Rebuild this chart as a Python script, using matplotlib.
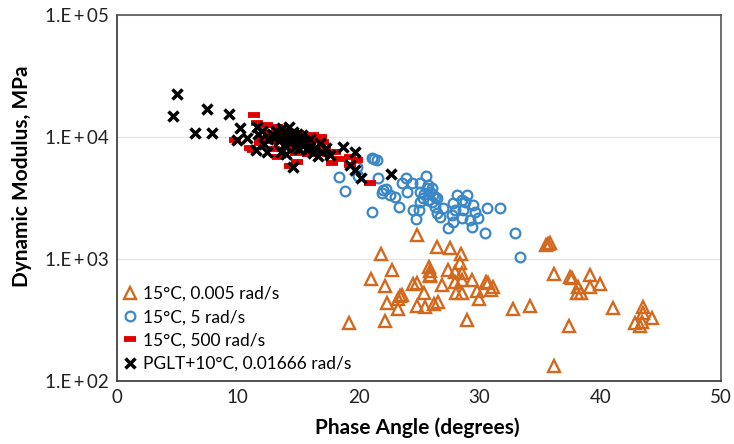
import matplotlib
matplotlib.use("Agg")
import matplotlib.pyplot as plt
from matplotlib.ticker import FixedLocator, FuncFormatter, NullLocator
import numpy as np

plt.rcParams['font.family'] = ['Lato', 'DejaVu Sans']

# 15°C, 0.005 rad/s
tri_x = [24.86, 26.47, 27.57, 28.45, 21.88, 28.39, 25.85, 22.74, 27.38, 27.98,
         28.53, 25.91, 25.91, 25.91, 21.03, 29.36, 27.98, 28.53, 30.52, 30.74,
         24.53, 24.81, 26.88, 22.21, 31.15, 29.83, 30.94, 25.41, 28.06, 28.53,
         23.43, 23.57, 23.29, 29.99, 22.33, 26.60, 26.27, 24.86, 25.50, 23.29,
         32.81, 34.19, 19.23, 22.19, 28.95, 35.70, 35.84, 35.55, 36.20, 37.64,
         37.50, 39.16, 38.19, 39.16, 39.98, 38.10, 38.39, 41.03, 37.44, 43.57,
         43.52, 44.26, 42.88, 43.29, 43.44, 36.20]
tri_y = [1574, 1262, 1239, 1093, 1093, 933, 865, 813, 813, 787,
         764, 795, 741, 724, 685, 673, 652, 673, 652, 632,
         621, 632, 612, 601, 593, 550, 557, 530, 530, 530,
         498, 507, 468, 470, 434, 447, 426, 412, 402, 389,
         389, 412, 297, 310, 316, 1327, 1346, 1300, 754, 695,
         711, 739, 593, 586, 621, 530, 530, 394, 282, 402,
         359, 327, 297, 284, 306, 133]

# 15°C, 5 rad/s
cir_x = [21.08, 21.30, 21.50, 18.40, 19.98, 21.58, 18.87, 23.92, 25.58, 23.57,
         24.40, 25.08, 22.27, 21.91, 24.03, 22.60, 23.01, 25.08, 25.64, 25.91,
         26.18, 26.47, 25.36, 25.77, 26.05, 25.08, 23.37, 21.08, 24.53, 25.02,
         24.75, 26.32, 27.01, 26.47, 26.74, 28.12, 28.95, 28.53, 28.81, 27.84,
         27.98, 27.71, 27.43, 27.84, 28.67, 29.50, 29.64, 28.53, 29.22, 29.91,
         29.36, 30.60, 31.71, 30.46, 32.95, 33.36, 19.84, 22.02, 25.75, 26.08,
         25.45, 26.30]
cir_y = [6690, 6560, 6475, 4730, 4790, 4640, 3605, 4640, 4790, 4170,
         4170, 4170, 3720, 3455, 3560, 3350, 3245, 3560, 3800, 3560,
         3350, 3145, 3145, 3050, 2950, 2950, 2685, 2445, 2520, 2520,
         2115, 2685, 2605, 2370, 2200, 3350, 3350, 3050, 2950, 2865,
         2520, 2295, 1787, 2025, 2520, 2775, 2445, 2155, 2090, 2155,
         1842, 2605, 2605, 1625, 1645, 1045, 5675, 3680, 4045, 3820,
         3400, 3250]

# 15°C, 500 rad/s
dash_x = [11.34, 9.77, 11.01, 11.84, 12.67, 13.35, 14.32, 14.88, 16.25, 17.08,
          17.77, 19.29, 19.84, 20.94, 12.39, 13.22, 16.80, 18.05, 19.29, 11.28,
          15.98, 12.90, 13.60, 14.00, 14.50, 15.00, 15.50, 16.00, 16.50, 17.20,
          14.80, 13.00, 15.80, 18.50, 12.00, 11.60, 16.90, 14.20, 15.30, 17.50]
dash_y = [15140, 9445, 8070, 8870, 10720, 6900, 5780, 6275, 10380, 9140,
          6085, 5890, 6470, 4220, 12530, 12140, 7590, 7590, 6900, 7815,
          10190, 9300, 10000, 11500, 8300, 10800, 9900, 8700, 9500, 8000,
          7400, 8000, 7200, 6600, 9700, 13000, 10000, 9000, 8500, 7300]

# PGLT+10°C, 0.01666 rad/s
x_x = [4.93, 4.66, 7.47, 9.27, 6.46, 7.84, 10.18, 10.74, 9.91, 11.51,
       11.56, 12.39, 14.59, 18.73, 19.70, 19.29, 19.70, 20.17, 22.66,
       12.8, 13.0, 13.2, 13.4, 13.5, 13.7, 13.8, 13.9, 14.0, 14.1,
       14.2, 14.3, 14.4, 14.5, 14.6, 14.7, 14.8, 14.9, 15.0, 15.1,
       15.2, 15.3, 15.4, 15.6, 15.7, 15.9, 16.0, 16.2, 16.4, 16.6,
       16.8, 17.0, 17.3, 17.6, 13.6, 14.0, 12.2, 12.5, 11.7, 12.0]
x_y = [22500, 14850, 16860, 15350, 10720, 10840, 11780, 9750, 9445, 7815,
       12140, 7590, 5645, 8315, 7590, 5890, 5370, 4585, 4945,
       10500, 9800, 11200, 9200, 10200, 11800, 8600, 9900, 10800, 9400,
       12000, 8900, 10300, 9600, 11000, 8300, 9900, 10600, 9000, 8000,
       9500, 10400, 8700, 9200, 7800, 8500, 9700, 7400, 8200, 7000,
       8900, 7600, 8200, 7100, 7600, 7200, 8800, 9600, 10500, 11300]

series_labels = ["15°C, 0.005 rad/s", "15°C, 5 rad/s",
                 "15°C, 500 rad/s", "PGLT+10°C, 0.01666 rad/s"]
x_ticks = [0, 10, 20, 30, 40, 50]
y_ticks = [1e2, 1e3, 1e4, 1e5]

fig = plt.figure(figsize=(7.34, 4.44), dpi=100)
ax = fig.add_axes([0.1594, 0.1419, 0.8229, 0.8243])

orange = '#D2691E'
blue = '#3A87C8'
red = '#E00000'

ax.plot(tri_x, tri_y, linestyle='none', marker='^', ms=8.5, mfc='none',
        mec=orange, mew=1.7, label=series_labels[0], zorder=3)
ax.plot(cir_x, cir_y, linestyle='none', marker='o', ms=7, mfc='none',
        mec=blue, mew=1.6, label=series_labels[1], zorder=3)
ax.plot(dash_x, dash_y, linestyle='none', marker='_', ms=8.5, mec=red,
        mew=4.2, label=series_labels[2], zorder=4)
ax.plot(x_x, x_y, linestyle='none', marker='x', ms=6.5, mec='black',
        mew=2.5, label=series_labels[3], zorder=5)

ax.set_yscale('log')
ax.set_xlim(0, 50)
ax.set_ylim(1e2, 1e5)
ax.xaxis.set_major_locator(FixedLocator(x_ticks))
ax.yaxis.set_major_locator(FixedLocator(y_ticks))
ax.yaxis.set_minor_locator(NullLocator())
ax.yaxis.set_major_formatter(FuncFormatter(
    lambda v, p: "1.E\u2009+\u2009{:02d}".format(int(round(np.log10(v))))))
ax.tick_params(axis='both', length=0, labelsize=13.5, colors='#222222', pad=6)

ax.grid(axis='y', which='major', color='#e3e3e3', lw=0.8, zorder=0)
for s in ax.spines.values():
    s.set_color('#555555')
    s.set_linewidth(1.2)
ax.spines['bottom'].set_color('#333333')
ax.spines['left'].set_color('#333333')

ax.set_xlabel("Phase Angle (degrees)", fontsize=15, fontweight='bold')
ax.xaxis.set_label_coords(0.497, -0.10)
ax.set_ylabel("Dynamic Modulus, MPa", fontsize=15, fontweight='bold')
ax.yaxis.set_label_coords(-0.14, 0.56)

leg = ax.legend(loc='lower left', frameon=False, fontsize=12.5,
                handletextpad=0.3, handlelength=1.0, labelspacing=0.42,
                borderaxespad=0.0, bbox_to_anchor=(-0.005, 0.006))

fig.savefig("out.png", dpi=100)
